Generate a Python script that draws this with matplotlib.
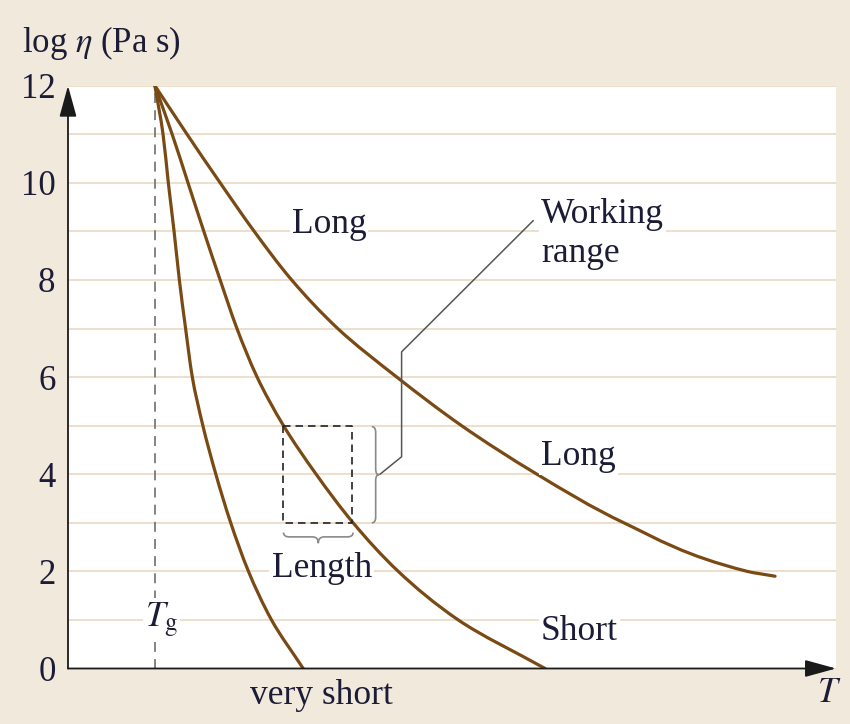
import numpy as np
import matplotlib
matplotlib.use("Agg")
import matplotlib.pyplot as plt
from matplotlib.path import Path
from matplotlib.patches import PathPatch

plt.rcParams['font.family'] = ['Liberation Serif', 'DejaVu Serif']
plt.rcParams['mathtext.fontset'] = 'stix'

# ---- data ----
log_eta_levels = [12, 11, 10, 9, 8, 7, 6, 5, 4, 3, 2, 1, 0]
very_short_T = [1.81, 1.98, 2.09, 2.21, 2.32, 2.45, 2.59, 2.81, 3.08, 3.39, 3.76, 4.24, 4.90]
short_T = [1.81, 2.17, 2.50, 2.83, 3.17, 3.52, 3.94, 4.49, 5.17, 5.94, 6.88, 8.13, 9.94]
long_levels = [12, 11, 10, 9, 8, 7, 6, 5, 4, 3, 2, 1.9]
long_T = [1.81, 2.48, 3.17, 3.88, 4.66, 5.62, 6.85, 8.20, 9.77, 11.58, 14.15, 14.73]
Tg = 1.81
box_T = [4.485, 5.92]
box_eta = [3, 5]
yticks = [0, 2, 4, 6, 8, 10, 12]

BG = '#f2e9dd'
GRID = '#eedfcc'
BROWN = '#7a4a14'
TXT = '#1c1c36'
FS = 25.5

fig = plt.figure(figsize=(8.5, 7.24), dpi=100, facecolor=BG)
ax = fig.add_axes([68/850, 1-668.5/724, (836-68)/850, (668.5-85.7)/724])
ax.set_facecolor('white')
ax.set_xlim(0, 16)
ax.set_ylim(0, 12)
for s in ax.spines.values():
    s.set_visible(False)

ax.set_yticks(yticks)
ax.set_yticklabels([str(v) for v in yticks])
ax.set_yticks(np.arange(0, 13, 1), minor=True)
ax.set_xticks([])
ax.tick_params(axis='y', which='both', length=0, pad=9, labelsize=25, labelcolor=TXT)
ax.grid(True, axis='y', which='both', color=GRID, linewidth=1.4, zorder=0)
ax.set_axisbelow(True)

# Tg dashed line
ax.plot([Tg, Tg], [0, 12], color='#7a7a7a', lw=1.3, dashes=(5.5, 4), zorder=1)

# smooth monotone (PCHIP-style) curve x(y) through the read points, drawn as Beziers
def smooth_path(xs, ys):
    x = np.asarray(xs, float)
    y = np.asarray(ys, float)
    h = np.diff(y)
    d = np.diff(x) / h
    n = len(x)
    m = np.zeros(n)
    for i in range(1, n - 1):
        if d[i - 1] * d[i] <= 0:
            m[i] = 0.0
        else:
            w1 = 2 * h[i] + h[i - 1]
            w2 = h[i] + 2 * h[i - 1]
            m[i] = (w1 + w2) / (w1 / d[i - 1] + w2 / d[i])
    m[0] = d[0]
    m[-1] = d[-1]
    verts = [(x[0], y[0])]
    codes = [Path.MOVETO]
    for i in range(n - 1):
        hh = h[i]
        verts += [(x[i] + m[i] * hh / 3, y[i] + hh / 3),
                  (x[i + 1] - m[i + 1] * hh / 3, y[i + 1] - hh / 3),
                  (x[i + 1], y[i + 1])]
        codes += [Path.CURVE4] * 3
    return Path(verts, codes)

for T, L in ((very_short_T, log_eta_levels), (short_T, log_eta_levels), (long_T, long_levels)):
    ax.add_patch(PathPatch(smooth_path(T, L), facecolor='none', edgecolor=BROWN,
                           lw=2.3, capstyle='round', joinstyle='round', zorder=3))

# dashed box
ax.plot([box_T[0], box_T[1], box_T[1], box_T[0], box_T[0]],
        [box_eta[1], box_eta[1], box_eta[0], box_eta[0], box_eta[1]],
        color='#222222', lw=1.2, dashes=(4.5, 3), zorder=4)

# braces
def vbrace(x0, xs, xt, ytop, ybot, r=0.12):
    ymid = (ytop + ybot) / 2
    verts = [(x0, ytop), (xs, ytop), (xs, ytop - r),
             (xs, ymid + r), (xs, ymid), (xt, ymid),
             (xs, ymid), (xs, ymid - r),
             (xs, ybot + r), (xs, ybot), (x0, ybot)]
    codes = [Path.MOVETO, Path.CURVE3, Path.CURVE3,
             Path.LINETO, Path.CURVE3, Path.CURVE3,
             Path.CURVE3, Path.CURVE3,
             Path.LINETO, Path.CURVE3, Path.CURVE3]
    return Path(verts, codes)

def hbrace(xl, xr, y0, ys, yt, r=0.12):
    xmid = (xl + xr) / 2
    verts = [(xl, y0), (xl, ys), (xl + r, ys),
             (xmid - r, ys), (xmid, ys), (xmid, yt),
             (xmid, ys), (xmid + r, ys),
             (xr - r, ys), (xr, ys), (xr, y0)]
    codes = [Path.MOVETO, Path.CURVE3, Path.CURVE3,
             Path.LINETO, Path.CURVE3, Path.CURVE3,
             Path.CURVE3, Path.CURVE3,
             Path.LINETO, Path.CURVE3, Path.CURVE3]
    return Path(verts, codes)

ax.add_patch(PathPatch(vbrace(6.33, 6.41, 6.48, 4.98, 3.0), facecolor='none',
                       edgecolor='#8a8a8a', lw=1.2, zorder=4))
ax.add_patch(PathPatch(hbrace(4.49, 5.94, 2.80, 2.71, 2.58), facecolor='none',
                       edgecolor='#8a8a8a', lw=1.2, zorder=4))

# leader line to "Working range"
ax.plot([6.50, 6.95, 6.95, 9.69], [4.0, 4.36, 6.52, 9.22], color='#555555', lw=1.1, zorder=4)

# axes arrows
arrow = dict(arrowstyle='-|>,head_length=0.8,head_width=0.22', color='#1a1a1a',
             lw=1.3, mutation_scale=24, shrinkA=0, shrinkB=0)
ax.annotate('', xy=(0, 12), xytext=(0, 0), arrowprops=arrow, annotation_clip=False, zorder=5)
ax.annotate('', xy=(16, 0), xytext=(0, 0), arrowprops=arrow, annotation_clip=False, zorder=5)

box = dict(facecolor='white', edgecolor='none', pad=1.5)
kw = dict(fontsize=FS, color=TXT, va='baseline', ha='left', zorder=6)
ax.text(4.66, 8.96, 'Long', bbox=box, **kw)
ax.text(9.85, 9.17, 'Working', bbox=box, **kw)
ax.text(9.85, 8.37, 'range', bbox=box, **kw)
ax.text(9.85, 4.19, 'Long', bbox=box, **kw)
ax.text(9.85, 0.59, 'Short', bbox=box, **kw)
ax.text(4.24, 1.89, 'Length', bbox=box, **kw)
ax.text(1.60, 0.86, r'$T_{\mathrm{g}}$', bbox=box, **kw)
ax.text(3.80, -0.73, 'very short', clip_on=False, **kw)
ax.text(15.60, -0.69, r'$T$', clip_on=False, **kw)

fig.text(22/850, 1-52/724, r'log $\eta$ (Pa s)', fontsize=25, color=TXT, va='baseline', ha='left')

fig.savefig('out.png', dpi=100, facecolor=BG)
